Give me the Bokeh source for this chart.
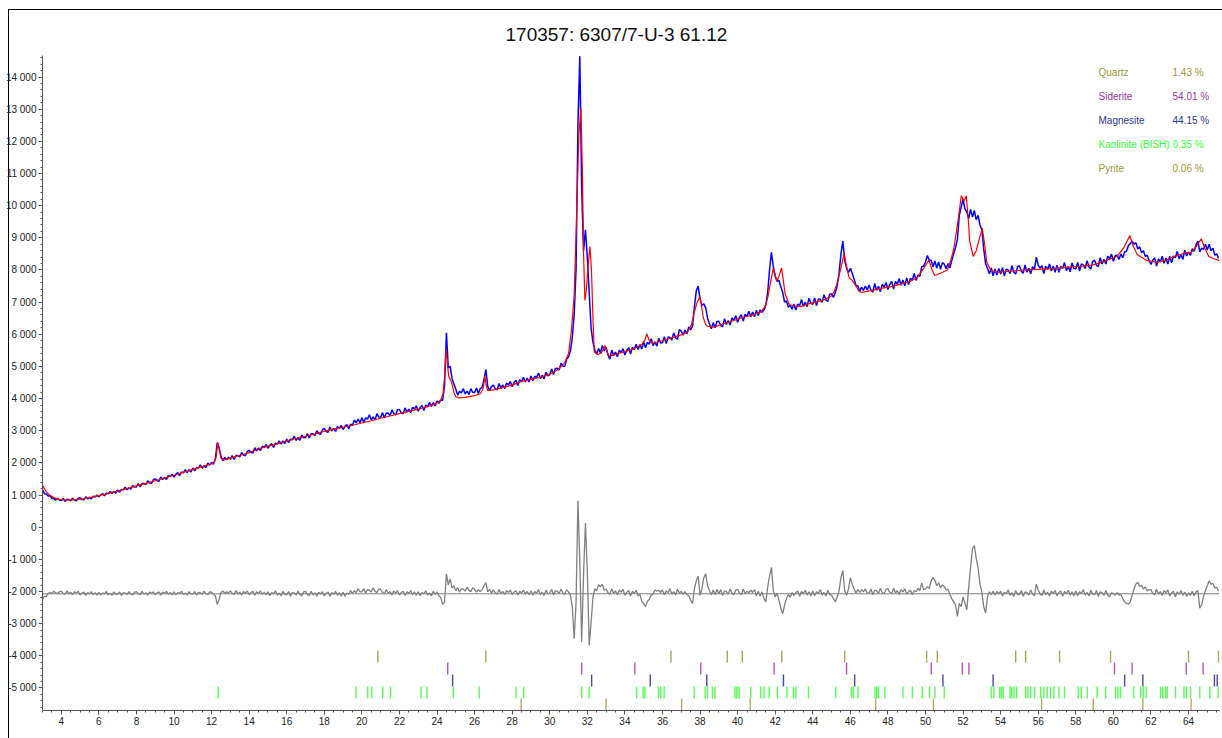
from bokeh.plotting import figure
from bokeh.models import Range1d, SingleIntervalTicker, CustomJSTickFormatter, Span
from bokeh.core.properties import value
from bokeh.embed import file_html
from bokeh.resources import INLINE

# ---------------- data ----------------
title_text = "170357: 6307/7-U-3 61.12"

two_theta_start = 3.0
two_theta_step = 0.1

# observed pattern (blue), one value per 0.1 deg 2theta, 3.0 .. 65.6
obs_counts = [
    1174, 1044, 1032, 967, 980, 887, 899, 840, 902, 846,
    833, 895, 802, 870, 860, 822, 905, 843, 822, 901,
    915, 863, 851, 945, 880, 930, 880, 965, 941, 997,
    945, 1008, 1046, 974, 1062, 1040, 1109, 1048, 1112, 1061,
    1158, 1091, 1174, 1162, 1244, 1166, 1227, 1182, 1297, 1247,
    1252, 1353, 1252, 1359, 1362, 1326, 1446, 1377, 1361, 1475,
    1504, 1442, 1433, 1561, 1480, 1550, 1488, 1603, 1574, 1650,
    1559, 1647, 1700, 1599, 1722, 1691, 1787, 1701, 1790, 1718,
    1842, 1754, 1855, 1837, 1938, 1836, 1910, 1851, 1995, 1929,
    2015, 1960, 2120, 2630, 2480, 2210, 2070, 2170, 2100, 2180,
    2112, 2226, 2107, 2228, 2229, 2185, 2323, 2243, 2224, 2355,
    2392, 2320, 2312, 2472, 2376, 2464, 2384, 2520, 2480, 2568,
    2456, 2550, 2604, 2482, 2616, 2574, 2682, 2582, 2682, 2598,
    2741, 2627, 2744, 2715, 2831, 2700, 2783, 2703, 2870, 2782,
    2787, 2912, 2773, 2906, 2903, 2849, 3003, 2910, 2886, 3032,
    3071, 2975, 2951, 3116, 2993, 3077, 2981, 3128, 3077, 3170,
    3038, 3140, 3197, 3056, 3203, 3172, 3331, 3246, 3366, 3249,
    3400, 3264, 3398, 3362, 3496, 3340, 3434, 3338, 3532, 3426,
    3420, 3563, 3396, 3549, 3542, 3475, 3648, 3531, 3494, 3657,
    3660, 3554, 3528, 3712, 3576, 3670, 3564, 3728, 3672, 3776,
    3610, 3724, 3788, 3632, 3796, 3750, 3882, 3754, 3876, 3768,
    3930, 3850, 3960, 3940, 4400, 6050, 4950, 5000, 4620, 4450,
    4290, 4110, 4230, 4180, 4310, 4145, 4230, 4125, 4310, 4195,
    4190, 4330, 4160, 4310, 4340, 4600, 4900, 4370, 4250, 4370,
    4419, 4301, 4271, 4472, 4321, 4423, 4305, 4484, 4421, 4534,
    4372, 4500, 4573, 4404, 4587, 4528, 4665, 4516, 4642, 4515,
    4706, 4553, 4697, 4654, 4798, 4623, 4723, 4614, 4824, 4704,
    4745, 4918, 4750, 4934, 4942, 4884, 5100, 5007, 5002, 5227,
    5300, 5480, 5900, 6600, 8000, 12500, 14650, 10500, 8600, 9250,
    8400, 7300, 6200, 5750, 5520, 5380, 5560, 5420, 5650, 5480,
    5597, 5361, 5229, 5510, 5335, 5449, 5303, 5508, 5427, 5554,
    5356, 5504, 5587, 5384, 5597, 5524, 5693, 5524, 5680, 5537,
    5768, 5583, 5749, 5694, 5860, 5649, 5763, 5630, 5874, 5728,
    5735, 5924, 5710, 5912, 5906, 5822, 6045, 5891, 5846, 6150,
    6100, 5970, 6130, 6010, 6230, 6140, 6250, 6850, 7350, 7500,
    7100, 6900, 6950, 6820, 6500, 6330, 6170, 6360, 6200, 6400,
    6407, 6271, 6239, 6480, 6305, 6429, 6293, 6508, 6437, 6574,
    6376, 6526, 6611, 6410, 6625, 6554, 6717, 6542, 6692, 6543,
    6750, 6580, 6760, 6680, 6760, 6900, 7300, 8000, 8550, 8100,
    7800, 7650, 7680, 7480, 7300, 7000, 7040, 6840, 6900, 6780,
    6944, 6754, 6942, 6892, 7080, 6862, 6994, 6860, 7122, 6964,
    6930, 7127, 6890, 7101, 7088, 6991, 7230, 7068, 7018, 7248,
    7260, 7150, 7300, 7500, 7900, 8500, 8900, 8300, 8050, 7920,
    8050, 7900, 7720, 7520, 7500, 7330, 7470, 7360, 7500, 7380,
    7535, 7365, 7315, 7580, 7365, 7495, 7325, 7560, 7465, 7610,
    7390, 7555, 7645, 7405, 7645, 7555, 7735, 7525, 7690, 7510,
    7750, 7545, 7745, 7690, 7890, 7675, 7845, 7800, 8100, 8120,
    8250, 8450, 8300, 8300, 8100, 8280, 8060, 8250, 8020, 8230,
    8180, 8040, 8200, 8060, 8300, 8500, 8700, 8950, 9700, 9950,
    10200, 9900, 9800, 9600, 9880, 9650, 9850, 9560, 9700, 9400,
    9250, 8650, 8200, 8050, 7880, 8060, 7820, 8030, 7840, 8050,
    7875, 8075, 7810, 8025, 8000, 7885, 8130, 7940, 7870, 8100,
    8135, 7957, 7899, 8156, 7933, 8055, 7877, 8104, 8001, 8400,
    8150, 8055, 8135, 7885, 8115, 8015, 8185, 7965, 8120, 7930,
    8150, 7930, 8115, 8045, 8230, 7980, 8105, 7945, 8220, 8045,
    8035, 8235, 7970, 8185, 8160, 8045, 8290, 8100, 8030, 8265,
    8305, 8145, 8105, 8380, 8185, 8335, 8185, 8430, 8345, 8500,
    8270, 8440, 8460, 8330, 8500, 8380, 8560, 8580, 8760, 8820,
    8900, 8800, 8850, 8650, 8720, 8540, 8600, 8420, 8460, 8300,
    8170, 8310, 8375, 8120, 8345, 8250, 8425, 8210, 8370, 8185,
    8430, 8225, 8435, 8380, 8580, 8345, 8485, 8330, 8610, 8440,
    8560, 8450, 8660, 8580, 8780, 8900, 8560, 8680, 8640, 8800,
    8620, 8800, 8600, 8680, 8460, 8500, 8360,
]

# difference curve (grey), same 2theta grid, counts relative to its baseline
diff_counts = [
    -180, -78, -90, 16, 38, 6, 80, 28, 8, 68,
    84, 12, -12, 90, 0, 48, -24, 66, 24, 78,
    -38, 22, 52, -50, 40, -2, 64, -26, 34, -44,
    46, -44, 28, -2, 70, -32, 16, -50, 58, -14,
    -20, 58, -50, 34, 22, -26, 70, -8, -38, 52,
    69, -3, -27, 75, -15, 33, -39, 51, 9, 63,
    -28, 32, 62, -40, 50, 8, 74, -16, 44, -34,
    56, -34, 38, 8, 80, -22, 26, -40, 68, -4,
    -10, 68, -40, 44, 32, -16, 80, 2, -28, 62,
    50, -20, -60, -330, -180, 40, 90, 10, 60, 20,
    93, 9, -19, 100, -5, 51, -33, 72, 23, 86,
    -31, 39, 74, -45, 60, 11, 88, -17, 53, -38,
    63, -57, 39, -1, 95, -41, 23, -65, 79, -17,
    -35, 69, -75, 37, 21, -43, 85, -19, -59, 61,
    72, -24, -56, 80, -40, 24, -72, 48, -8, 64,
    -64, 16, 56, -80, 40, -16, 72, -48, 32, -72,
    48, -72, 24, -16, 100, 4, 98, 30, 164, 58,
    60, 164, 20, 132, 116, 52, 180, 76, 36, 156,
    142, 41, 4, 135, 10, 69, -32, 83, 22, 94,
    -39, 41, 81, -55, 65, 9, 97, -23, 57, -47,
    63, -57, 39, -1, 95, -41, 23, -65, 79, -17,
    50, -60, -120, -330, -250, 620, 280, 460, 180, 250,
    90, 194, 50, 162, 146, 82, 210, 106, 66, 186,
    140, 50, 130, 70, 130, 250, 350, 60, 130, 20,
    122, 26, -6, 130, 10, 74, -22, 98, 42, 114,
    -24, 56, 96, -40, 80, 24, 112, -8, 72, -32,
    94, -41, 67, 22, 130, -23, 49, -50, 112, 4,
    15, 132, -30, 96, 78, 6, 150, 33, -12, 123,
    60, -50, -400, -1400, -300, 2900, 1000, -1500, 600, 2200,
    700, -1600, -900, -100, 160, 90, 280, 220, 300, 110,
    150, 30, -10, 160, 10, 90, -30, 120, 50, 140,
    -50, 50, 100, -70, 80, 10, 110, -60, -20, -240,
    -300, -400, -230, -170, -40, -10, 120, 80, 110, 40,
    120, -30, 90, 40, 160, -10, 70, -40, 140, 20,
    80, -20, 70, -30, -60, -200, -300, 150, 400, 550,
    -50, 150, 500, 620, 250, 100, -30, 120, -20, 140,
    0, 130, -50, 90, 70, -10, 150, 20, -30, 120,
    140, 20, -20, 150, 0, 80, 30, 110, 40, 130,
    -60, 90, -80, 60, -150, -250, 200, 550, 820, 100,
    -100, 20, -200, -450, -620, -350, -150, -20, -110, 40,
    -60, 40, 90, -80, 70, 0, 110, -40, 60, -70,
    90, -60, 60, 10, 130, -40, 40, -70, 110, -10,
    -50, -150, -250, -100, 100, 500, 720, 100, -50, 150,
    500, 300, 150, 20, 140, 40, 130, 60, 150, 20,
    20, 150, -30, 110, 90, 10, 170, 40, -10, 140,
    160, 40, 0, 170, 20, 100, -20, 130, 60, 150,
    -14, 66, 106, -30, 100, 64, 172, 102, 332, 128,
    150, 220, 160, 400, 500, 420, 250, 340, 190, 280,
    220, 120, 140, -20, -150, -250, -350, -700, -300, -400,
    -100, -300, -500, 200, 800, 1400, 1500, 1100, 800, 300,
    50, -400, -600, -100, 60, -20, 80, -40, 70, 0,
    80, -70, 50, 0, 120, -50, 30, -80, 100, -20,
    -30, 100, -80, 60, 40, -40, 120, -10, -60, 300,
    120, -10, -50, 120, -30, 50, -70, 80, 10, 100,
    -60, 40, 90, -80, 70, 0, 110, -40, 60, -70,
    90, -60, 60, 10, 130, -40, 40, -70, 110, -10,
    -30, 100, -80, 60, 40, -50, 100, -30, -100, 30,
    10, -50, 40, -40, -20, -150, -250, -300, -320, -250,
    -50, 150, 300, 360, 230, 260, 150, 210, 90, 130,
    130, 10, -30, 140, -10, 70, -50, 100, 30, 120,
    -70, 30, 80, -90, 60, -10, 100, -50, 50, -80,
    30, -50, 80, -60, 60, 100, -450, -350, -80, 100,
    250, 400, 300, 320, 180, 200, 80,
]

# calculated pattern (red)
calc_two_theta = [
    3.0, 3.2, 3.4, 3.6, 3.8, 4.0, 4.4, 4.8, 5.2, 5.6, 6.0, 6.5, 7.0, 7.5, 8.0,
    8.5, 9.0, 9.5, 10.0, 10.5, 11.0, 11.5, 12.0, 12.15, 12.25, 12.33, 12.4,
    12.5, 12.6, 12.8, 13.0, 13.5, 14.0, 14.5, 15.0, 15.5, 16.0, 16.5, 17.0,
    17.5, 18.0, 18.5, 19.0, 19.5, 20.0, 20.5, 21.0, 21.5, 22.0, 22.5, 23.0,
    23.5, 24.0, 24.2, 24.32, 24.4, 24.48, 24.55, 24.62, 24.7, 24.78, 24.9,
    25.0, 25.2, 25.5, 26.0, 26.3, 26.45, 26.55, 26.62, 26.7, 27.0, 27.5, 28.0,
    28.5, 29.0, 29.5, 30.0, 30.4, 30.8, 31.0, 31.15, 31.3, 31.42, 31.55,
    31.66, 31.74, 31.8, 31.87, 31.95, 32.05, 32.14, 32.22, 32.3, 32.37,
    32.55, 32.75, 32.94, 33.05, 33.17, 33.5, 34.0, 34.5, 34.9, 35.05, 35.17,
    35.3, 35.47, 36.0, 36.6, 37.0, 37.33, 37.55, 37.67, 37.85, 38.0, 38.1,
    38.17, 38.3, 38.4, 38.75, 39.2, 39.8, 40.3, 40.8, 41.23, 41.45, 41.59,
    41.75, 41.9, 42.0, 42.09, 42.2, 42.34, 42.45, 42.53, 42.74, 43.0, 43.36,
    43.8, 44.2, 44.6, 45.0, 45.13, 45.3, 45.49, 45.67, 45.8, 45.93, 46.11,
    46.3, 46.46, 46.6, 47.0, 47.5, 48.15, 48.7, 49.2, 49.57, 49.92, 50.19,
    50.35, 50.49, 50.8, 51.16, 51.35, 51.52, 51.7, 51.91, 52.05, 52.17, 52.3,
    52.35, 52.54, 52.7, 52.84, 53.02, 53.15, 53.26, 53.47, 53.82, 54.5,
    55.24, 56.0, 57.01, 57.9, 58.79, 59.3, 59.67, 60.2, 60.56, 60.88, 61.05,
    61.27, 61.8, 62.33, 62.8, 63.22, 63.6, 63.84, 64.1, 64.4, 64.68, 64.85,
    65.08, 65.35, 65.65,
]
calc_counts = [
    1300, 1100, 990, 920, 875, 855, 845, 860, 890, 935, 985, 1050, 1125, 1205,
    1285, 1365, 1445, 1530, 1615, 1705, 1800, 1885, 1975, 2040, 2200, 2640,
    2450, 2150, 2090, 2110, 2150, 2230, 2320, 2440, 2520, 2590, 2690, 2760,
    2830, 2900, 2990, 3050, 3110, 3170, 3240, 3310, 3390, 3460, 3530, 3600,
    3670, 3750, 3860, 3950, 4150, 4650, 5550, 5100, 4700, 4600, 4500, 4200,
    4060, 4020, 4040, 4090, 4150, 4300, 4690, 4400, 4250, 4270, 4340, 4420,
    4540, 4600, 4665, 4760, 4890, 5120, 5400, 6100, 7200, 9500, 12200, 13060,
    11000, 8500, 7050, 7400, 8200, 8730, 8000, 6500, 5450, 5370, 5420, 5650,
    5450, 5320, 5380, 5460, 5550, 5680, 5800, 6010, 5800, 5720, 5800, 5910,
    5980, 6070, 6300, 6640, 7000, 7170, 6800, 6530, 6300, 6250, 6220, 6320,
    6430, 6530, 6600, 6690, 6850, 7100, 7600, 8065, 7850, 7670, 7800, 8065,
    7600, 7260, 6925, 6880, 6870, 6950, 7010, 7070, 7200, 7310, 7600, 8035,
    8520, 8100, 7770, 7670, 7500, 7340, 7300, 7350, 7410, 7480, 7560, 7650,
    7770, 8065, 8310, 8000, 7830, 7900, 8000, 8300, 8700, 9400, 10310, 10140,
    10310, 9400, 8910, 8420, 8600, 8910, 9300, 8800, 8240, 8000, 7930, 7960,
    8000, 8020, 8060, 8100, 8140, 8220, 8310, 8420, 8700, 9070, 8750, 8480,
    8290, 8240, 8300, 8420, 8480, 8550, 8520, 8720, 8970, 8700, 8420, 8350,
    8290,
]

# phase summary (legend in the top right)
phase_names = ["Quartz", "Siderite", "Magnesite", "Kaolinite (BISH)", "Pyrite"]
phase_percent = ["1.43 %", "54.01 %", "44.15 %", "0.35 %", "0.06 %"]

# reflection positions (2theta) for each phase
quartz_peaks = [20.85, 26.6, 36.45, 39.45, 40.25, 42.35, 45.7, 50.06, 50.63,
                54.8, 55.33, 57.14, 59.85, 64.0, 65.6]
siderite_peaks = [24.57, 31.7, 34.53, 38.04, 41.94, 45.8, 50.31, 51.96, 52.31,
                  60.06, 61.0, 63.88, 64.78]
magnesite_peaks = [24.83, 32.23, 35.35, 38.36, 42.44, 46.23, 50.93, 53.6, 60.6,
                   61.57, 65.38, 65.53]
kaolinite_peaks = [12.35, 19.69, 20.31, 20.53, 21.11, 21.52, 23.15, 23.47, 24.87,
                   26.25, 28.2, 28.61, 31.7, 32.1, 34.62, 34.97, 35.06, 35.79,
                   35.91, 36.09, 37.69, 38.27, 38.4, 38.66, 38.79, 39.86, 39.96,
                   40.08, 40.7, 41.23, 41.41, 41.68, 42.12, 42.62, 42.97, 43.1,
                   43.77, 45.22, 46.06, 46.16, 46.41, 47.31, 47.4, 47.49, 47.84,
                   48.8, 49.3, 49.83, 50.22, 50.5, 51.0, 53.5, 53.64, 53.95,
                   54.04, 54.14, 54.5, 54.59, 54.71, 54.85, 55.33, 55.45, 55.6,
                   55.81, 56.13, 56.3, 56.48, 56.66, 56.84, 57.1, 57.4, 58.13,
                   58.29, 58.61, 59.14, 59.59, 60.12, 60.24, 60.38, 61.09, 61.45,
                   61.59, 61.75, 62.51, 62.63, 62.78, 62.87, 63.31, 63.76, 63.89,
                   64.1, 64.6, 65.13, 65.58]
pyrite_peaks = [28.48, 33.0, 37.02, 40.67, 47.35, 50.42, 56.18, 58.93, 61.57, 64.14]

# ---------------- styling / layout ----------------
FONT = "Liberation Sans"
DIFF_BASELINE = -2070
BLUE = "#0000ff"
RED = "#ff0000"
GREY = "#808080"
legend_colors = ["#999933", "#993399", "#333399", "#33ff33", "#999933"]
mark_colors = ["#aaa455", "#bb55bb", "#4848b0", "#55ff55", "#b8a860"]
peak_sets = [quartz_peaks, siderite_peaks, magnesite_peaks, kaolinite_peaks, pyrite_peaks]

obs_x = [round(two_theta_start + two_theta_step * i, 2) for i in range(len(obs_counts))]
diff_x = [round(two_theta_start + two_theta_step * i, 2) for i in range(len(diff_counts))]
diff_y = [d + DIFF_BASELINE for d in diff_counts]

p = figure(
    width=1222, height=738,
    x_range=Range1d(3.0, 65.65), y_range=Range1d(-5700, 14670),
    output_backend="svg", toolbar_location=None,
    min_border_left=42, min_border_right=3, min_border_top=55, min_border_bottom=28,
)
p.outline_line_color = None
p.background_fill_color = None
p.border_fill_color = None
p.xgrid.visible = False
p.ygrid.visible = False
# thin outer frame of the picture (left and top edges), drawn behind the transparent canvas
p.styles = {
    "background-color": "white",
    "background-image": "linear-gradient(#000, #000), linear-gradient(#000, #000)",
    "background-size": "1px 100%, 100% 1px",
    "background-position": "8px 9px, 8px 9px",
    "background-repeat": "no-repeat",
}

p.title.text = title_text
p.title.align = "left"
p.title.text_font = FONT
p.title.text_font_size = "19px"
p.title.text_font_style = "normal"
p.title.text_color = "#111111"
p.title.standoff = 22
p.title.offset = 463

for ax in (p.xaxis[0], p.yaxis[0]):
    ax.axis_line_color = "#555555"
    ax.major_tick_line_color = "#555555"
    ax.minor_tick_line_color = "#555555"
    ax.major_tick_in = 0
    ax.major_tick_out = 4
    ax.minor_tick_in = 0
    ax.minor_tick_out = 2
    ax.major_label_text_font = FONT
    ax.major_label_text_font_size = "10px"
    ax.major_label_text_color = "#222222"
    ax.major_label_standoff = 2

p.xaxis[0].ticker = SingleIntervalTicker(interval=2, num_minor_ticks=4)
p.yaxis[0].ticker = SingleIntervalTicker(interval=1000, num_minor_ticks=5)
p.yaxis[0].formatter = CustomJSTickFormatter(code="""
    const v = Math.round(tick);
    const s = Math.abs(v).toString().replace(/\\B(?=(\\d{3})+(?!\\d))/g, " ");
    return (v < 0 ? "-" : "") + s;
""")

# curves
p.line(obs_x, obs_counts, line_color=BLUE, line_width=1.5)
p.line(calc_two_theta, calc_counts, line_color=RED, line_width=1.2)
p.add_layout(Span(location=DIFF_BASELINE, dimension="width", line_color=GREY, line_width=1))
p.line(diff_x, diff_y, line_color=GREY, line_width=1.3)

# reflection markers, one row per phase
row_top = -3834
row_h = 373
for i, (peaks, col) in enumerate(zip(peak_sets, mark_colors)):
    top = row_top - i * row_h
    bot = top - row_h
    p.segment(x0=peaks, y0=[bot] * len(peaks), x1=peaks, y1=[top] * len(peaks),
              line_color=col, line_width=1.4)

# phase legend (text)
ly0 = 14140
ldy = -748
ly = [ly0 + i * ldy for i in range(len(phase_names))]
p.text(x=[59.21] * len(phase_names), y=ly, text=phase_names, text_color=legend_colors,
       text_font=value(FONT), text_font_size="10px", text_baseline="middle", text_align="left")
p.text(x=[63.15] * len(phase_percent), y=ly, text=phase_percent, text_color=legend_colors,
       text_font=value(FONT), text_font_size="10px", text_baseline="middle", text_align="left")

open("out.html", "w").write(file_html(p, INLINE))
